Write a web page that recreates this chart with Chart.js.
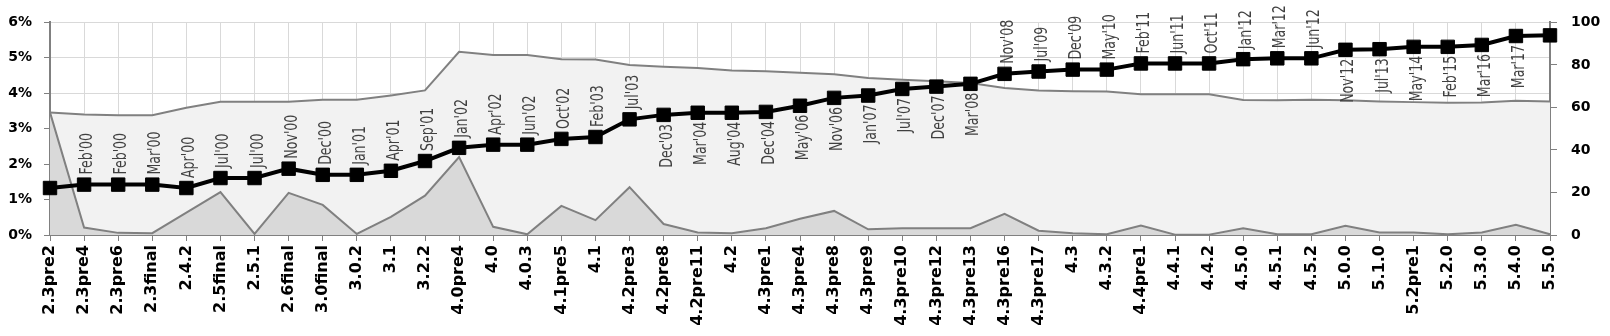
<!DOCTYPE html>
<html>
<head>
<meta charset="utf-8">
<script src="https://cdn.jsdelivr.net/npm/chart.js@4.4.1/dist/chart.umd.min.js"></script>
<style>
  html, body { margin: 0; padding: 0; background: #fff; }
</style>
</head>
<body>
<canvas id="chart" width="1610" height="336"></canvas>
<script>
// versions on the x axis
const versions = ["2.3pre2", "2.3pre4", "2.3pre6", "2.3final", "2.4.2", "2.5final", "2.5.1", "2.6final",
  "3.0final", "3.0.2", "3.1", "3.2.2", "4.0pre4", "4.0", "4.0.3", "4.1pre5", "4.1", "4.2pre3", "4.2pre8",
  "4.2pre11", "4.2", "4.3pre1", "4.3pre4", "4.3pre8", "4.3pre9", "4.3pre10", "4.3pre12", "4.3pre13",
  "4.3pre16", "4.3pre17", "4.3", "4.3.2", "4.4pre1", "4.4.1", "4.4.2", "4.5.0", "4.5.1", "4.5.2",
  "5.0.0", "5.1.0", "5.2pre1", "5.2.0", "5.3.0", "5.4.0", "5.5.0"];

// release dates written next to the markers
const releaseDates = ["", "Feb'00", "Feb'00", "Mar'00", "Apr'00", "Jul'00", "Jul'00", "Nov'00", "Dec'00",
  "Jan'01", "Apr'01", "Sep'01", "Jan'02", "Apr'02", "Jun'02", "Oct'02", "Feb'03", "Jul'03", "Dec'03",
  "Mar'04", "Aug'04", "Dec'04", "May'06", "Nov'06", "Jan'07", "Jul'07", "Dec'07", "Mar'08", "Nov'08",
  "Jul'09", "Dec'09", "May'10", "Feb'11", "Jun'11", "Oct'11", "Jan'12", "Mar'12", "Jun'12", "Nov'12",
  "Jul'13", "May'14", "Feb'15", "Mar'16", "Mar'17", ""];

// black line, right axis (0-100)
const lineValues = [22.1, 23.7, 23.7, 23.7, 22.1, 26.8, 26.8, 31.2, 28.3, 28.3, 30.2, 34.8, 41.0, 42.5,
  42.5, 45.2, 46.1, 54.4, 56.5, 57.5, 57.5, 57.9, 60.8, 64.5, 65.6, 68.7, 69.8, 71.1, 75.8, 76.9, 77.8,
  77.8, 80.7, 80.7, 80.7, 82.7, 83.1, 83.1, 87.1, 87.4, 88.5, 88.5, 89.4, 93.6, 93.9];

// light grey area, left axis (%)
const upperShare = [3.46, 3.40, 3.38, 3.38, 3.59, 3.76, 3.76, 3.76, 3.82, 3.82, 3.94, 4.08, 5.17, 5.08,
  5.08, 4.96, 4.95, 4.80, 4.75, 4.71, 4.64, 4.62, 4.58, 4.54, 4.43, 4.38, 4.34, 4.29, 4.15, 4.08, 4.06,
  4.05, 3.97, 3.97, 3.97, 3.81, 3.80, 3.82, 3.80, 3.77, 3.75, 3.73, 3.74, 3.79, 3.77];

// dark grey area, left axis (%)
const lowerShare = [3.46, 0.21, 0.06, 0.05, 0.63, 1.21, 0.03, 1.19, 0.85, 0.03, 0.51, 1.11, 2.20, 0.23,
  0.02, 0.82, 0.42, 1.35, 0.31, 0.07, 0.05, 0.19, 0.46, 0.68, 0.16, 0.19, 0.19, 0.19, 0.60, 0.12, 0.05,
  0.02, 0.27, 0.01, 0.01, 0.19, 0.02, 0.02, 0.26, 0.07, 0.07, 0.02, 0.07, 0.29, 0.02];

const axisGrey = '#808080';
const gridGrey = '#d9d9d9';
const tickFont = { family: 'DejaVu Sans', weight: 'bold', size: 16 };

// writes the release date above or below each marker (narrow text)
const dateLabels = {
  id: 'dateLabels',
  afterDatasetsDraw(chart) {
    const ctx = chart.ctx;
    const points = chart.getDatasetMeta(0).data;
    ctx.save();
    ctx.font = '17px "DejaVu Sans", sans-serif';
    ctx.fillStyle = '#404040';
    ctx.textBaseline = 'alphabetic';
    points.forEach((pt, i) => {
      const text = releaseDates[i];
      if (!text) return;
      const below = (i >= 18 && i <= 27) || i >= 38;
      ctx.save();
      ctx.translate(pt.x + 8, below ? pt.y + 9 : pt.y - 10);
      ctx.rotate(-Math.PI / 2);
      ctx.scale(0.74, 1);
      ctx.textAlign = below ? 'right' : 'left';
      ctx.fillText(text, 0, 0);
      ctx.restore();
    });
    ctx.restore();
  }
};

new Chart(document.getElementById('chart'), {
  type: 'line',
  data: {
    labels: versions,
    datasets: [
      {
        data: lineValues,
        yAxisID: 'y1',
        borderColor: '#000',
        borderWidth: 4,
        pointStyle: 'rect',
        pointRadius: 9.5,
        pointBackgroundColor: '#000',
        pointBorderColor: '#000',
        pointBorderWidth: 1,
        fill: false
      },
      {
        data: lowerShare,
        yAxisID: 'y',
        borderColor: axisGrey,
        borderWidth: 2,
        backgroundColor: '#d9d9d9',
        pointRadius: 0,
        fill: 'origin'
      },
      {
        data: upperShare,
        yAxisID: 'y',
        borderColor: axisGrey,
        borderWidth: 2,
        backgroundColor: '#f2f2f2',
        pointRadius: 0,
        fill: 'origin'
      }
    ]
  },
  options: {
    responsive: false,
    animation: false,
    devicePixelRatio: 1,
    layout: { padding: { top: 20, left: 0, right: 0, bottom: 0 } },
    plugins: { legend: { display: false }, tooltip: { enabled: false } },
    elements: { line: { tension: 0 } },
    scales: {
      x: {
        offset: false,
        grid: { color: gridGrey, tickColor: axisGrey, tickLength: 6 },
        border: { color: axisGrey, width: 2 },
        ticks: { autoSkip: false, minRotation: 90, maxRotation: 90, padding: 4, color: '#000', font: tickFont },
        afterFit: (s) => { s.height = 101; }
      },
      y: {
        position: 'left',
        min: 0,
        max: 6,
        grid: { color: gridGrey, tickColor: axisGrey, tickLength: 6 },
        border: { color: axisGrey, width: 2 },
        ticks: { stepSize: 1, padding: 12, color: '#000', font: { ...tickFont, size: 14 }, callback: (v) => v + '%' },
        afterFit: (s) => { s.width = 50; }
      },
      y1: {
        position: 'right',
        min: 0,
        max: 100,
        grid: { drawOnChartArea: false, tickColor: axisGrey, tickLength: 7 },
        border: { color: axisGrey, width: 2 },
        ticks: { stepSize: 20, padding: 14, color: '#000', font: { ...tickFont, size: 14 } },
        afterFit: (s) => { s.width = 60; }
      }
    }
  },
  plugins: [dateLabels]
});
</script>
</body>
</html>
